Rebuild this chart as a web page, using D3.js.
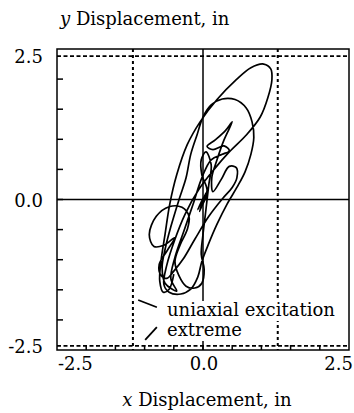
<!DOCTYPE html>
<html>
<head>
<meta charset="utf-8">
<script src="https://cdn.jsdelivr.net/npm/d3@7"></script>
<style>
  body { margin: 0; background: #fff; }
  svg { display: block; }
  text { font-family: "DejaVu Serif", serif; font-size: 18px; fill: #000; }
</style>
</head>
<body>
<div id="grafico"></div>
<script>
// deslocamentos da trajetória (in)
var deslX = [0.00,0.05,-0.05,0.09,-0.09,0.03,-0.06,0.08,-0.04,0.06,-0.03,0.07,-0.02,-0.03,0.05,0.14,0.10,0.05,0.00,-0.03,0.02,-0.02,-0.14,-0.29,-0.41,-0.48,-0.39,-0.27,-0.24,-0.36,-0.58,-0.80,-0.92,-0.84,-0.67,-0.48,-0.62,-0.75,-0.72,-0.62,-0.50,-0.34,-0.14,0.10,0.34,0.50,0.58,0.57,0.45,0.31,0.17,0.15,0.24,0.36,0.50,0.38,0.21,0.07,0.17,0.36,0.45,0.33,0.14,-0.02,-0.17,-0.33,-0.48,-0.55,-0.45,
  -0.65,-0.70,-0.65,-0.55,-0.41,-0.29,-0.21,-0.10,0.00,0.14,0.33,0.55,0.74,0.84,0.87,0.82,0.72,0.58,0.41,0.24,0.09,-0.02,-0.09,-0.21,-0.38,-0.58,
  -0.67,-0.62,-0.48,-0.31,-0.07,0.19,0.45,0.75,0.98,1.11,1.18,1.16,1.04,0.82,0.57,0.24,-0.05,-0.27,-0.45,-0.57,-0.65,-0.72,-0.74,-0.68,-0.58,-0.50];
var deslY = [0.00,0.10,-0.10,0.17,-0.17,0.07,-0.20,0.12,-0.14,0.05,-0.08,0.15,0.41,0.66,0.79,0.58,0.25,-0.17,-0.58,-0.91,-1.16,-1.39,-1.47,-1.44,-1.27,-1.03,-0.75,-0.50,-0.28,-0.13,-0.12,-0.28,-0.58,-0.78,-0.76,-0.63,-0.86,-1.08,-1.26,-1.31,-1.19,-0.99,-0.66,-0.28,0.02,0.20,0.36,0.53,0.55,0.33,0.13,0.36,0.66,0.99,1.29,1.14,0.99,0.88,0.83,0.89,0.81,0.75,0.66,0.36,-0.08,-0.53,-0.96,-1.32,-1.52,
  -1.39,-1.13,-0.83,-0.45,0.00,0.36,0.75,1.08,1.37,1.57,1.67,1.66,1.52,1.29,1.03,0.75,0.46,0.20,-0.08,-0.41,-0.75,-1.03,-1.29,-1.49,-1.57,-1.54,
  -1.41,-1.09,-0.66,-0.25,0.17,0.50,0.79,1.08,1.37,1.69,1.99,2.17,2.25,2.19,1.99,1.66,1.29,0.91,0.41,-0.08,-0.58,-1.03,-1.36,-1.54,-1.49,-1.24];

// limites extremos (linhas tracejadas)
var extremoX = [-1.20, 1.28],
    extremoY = [2.38, -2.43];

var ticksRotulo = [-2.5, 0, 2.5],
    rotulosX = ["-2.5", "0.0", "2.5"],
    rotulosY = ["-2.5", "0.0", "2.5"],
    ticksMenores = d3.range(-2.0, 2.01, 0.5);

var tituloX = "Displacement, in",
    tituloY = "Displacement, in",
    legenda = ["uniaxial excitation", "extreme"];

var width = 354,
    height = 413,
    esq = 57, dir = 349, topo = 49, base = 350;

var x = d3.scaleLinear().domain([-2.5, 2.5]).range([esq, dir]);
var y = d3.scaleLinear().domain([-2.5, 2.5]).range([base, topo]);

var svg = d3.select("#grafico").append("svg")
    .attr("width", width)
    .attr("height", height);

// tracejados
svg.selectAll(".extX").data(extremoX).enter().append("line")
    .attr("x1", function(d) { return x(d); }).attr("x2", function(d) { return x(d); })
    .attr("y1", topo).attr("y2", base)
    .attr("stroke", "#000").attr("stroke-width", 2).attr("stroke-dasharray", "3,3");
svg.selectAll(".extY").data(extremoY).enter().append("line")
    .attr("x1", esq).attr("x2", dir)
    .attr("y1", function(d) { return y(d); }).attr("y2", function(d) { return y(d); })
    .attr("stroke", "#000").attr("stroke-width", 1.8).attr("stroke-dasharray", "4,2.5");

// eixos no zero
svg.append("line").attr("x1", x(0)).attr("x2", x(0)).attr("y1", topo).attr("y2", base)
    .attr("stroke", "#000").attr("stroke-width", 1.5);
svg.append("line").attr("x1", esq).attr("x2", dir).attr("y1", y(0)).attr("y2", y(0))
    .attr("stroke", "#000").attr("stroke-width", 1.5);

// trajetória
var pontos = deslX.map(function(d, i) { return [d, deslY[i]]; });
var linha = d3.line()
    .x(function(d) { return x(d[0]); })
    .y(function(d) { return y(d[1]); })
    .curve(d3.curveCatmullRom.alpha(0.5));
svg.append("path")
    .attr("d", linha(pontos))
    .attr("fill", "none")
    .attr("stroke", "#000")
    .attr("stroke-width", 1.7)
    .attr("stroke-linejoin", "round");

// moldura
svg.append("rect")
    .attr("x", esq).attr("y", topo)
    .attr("width", dir - esq).attr("height", base - topo)
    .attr("fill", "none").attr("stroke", "#000").attr("stroke-width", 1.5);

// ticks internos
svg.selectAll(".tickY").data(ticksMenores).enter().append("line")
    .attr("x1", esq).attr("x2", esq + 6)
    .attr("y1", function(d) { return y(d); }).attr("y2", function(d) { return y(d); })
    .attr("stroke", "#000").attr("stroke-width", 1.5);
svg.selectAll(".tickX").data(ticksMenores).enter().append("line")
    .attr("x1", function(d) { return x(d); }).attr("x2", function(d) { return x(d); })
    .attr("y1", base).attr("y2", base - 5)
    .attr("stroke", "#000").attr("stroke-width", 1.5);

// rótulos dos ticks
var offY = [3, 7.5, 14];
svg.selectAll(".rotY").data(ticksRotulo).enter().append("text")
    .attr("x", 43)
    .attr("y", function(d, i) { return y(d) + offY[i]; })
    .attr("text-anchor", "end")
    .text(function(d, i) { return rotulosY[i]; });

var ancora = ["start", "middle", "end"], offX = [1, 1, 4];
svg.selectAll(".rotX").data(ticksRotulo).enter().append("text")
    .attr("x", function(d, i) { return x(d) + offX[i]; })
    .attr("y", 370)
    .attr("text-anchor", function(d, i) { return ancora[i]; })
    .text(function(d, i) { return rotulosX[i]; });

// títulos
var ty = svg.append("text").attr("x", 60).attr("y", 25);
ty.append("tspan").attr("font-style", "italic").text("y");
ty.append("tspan").text(" " + tituloY);

var tx = svg.append("text").attr("x", 207).attr("y", 406).attr("text-anchor", "middle");
tx.append("tspan").attr("font-style", "italic").text("x");
tx.append("tspan").text(" " + tituloX);

// legenda com fundo branco
var legY = [316, 336];
legenda.forEach(function(t, i) {
  var txt = svg.append("text").attr("x", 167).attr("y", legY[i]).text(t);
  var bb = txt.node().getBBox();
  svg.insert("rect", "text")
      .attr("x", bb.x - 3).attr("y", legY[i] - 15)
      .attr("width", bb.width + 5).attr("height", 20)
      .attr("fill", "#fff");
});

// setas da legenda
var setas = [[[-1.11, -1.67], [-0.79, -1.79]], [[-0.99, -2.33], [-0.79, -2.12]]];
svg.selectAll(".seta").data(setas).enter().append("line")
    .attr("x1", function(d) { return x(d[0][0]); }).attr("y1", function(d) { return y(d[0][1]); })
    .attr("x2", function(d) { return x(d[1][0]); }).attr("y2", function(d) { return y(d[1][1]); })
    .attr("stroke", "#000").attr("stroke-width", 1.8);
</script>
</body>
</html>
